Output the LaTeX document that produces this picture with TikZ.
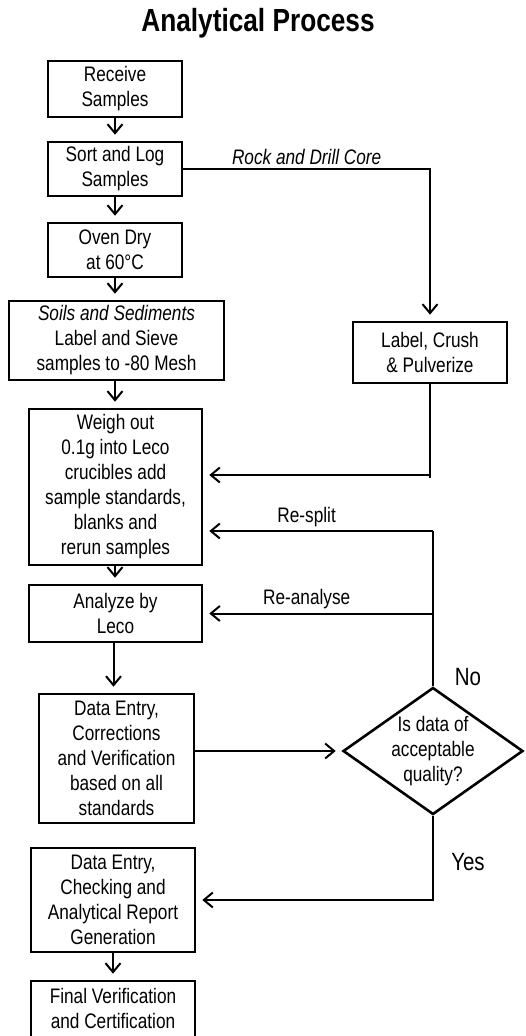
\documentclass[tikz,border=0pt]{standalone}
\usepackage{fontspec}
\setmainfont{Liberation Sans}[FakeStretch=0.82]
\usepackage{tikz}
\usetikzlibrary{positioning, arrows.meta, shapes.geometric, calc}
\tikzset{
    box/.style={rectangle, draw, line width=2.6pt, align=center, inner sep=0pt, font=\fontsize{21}{25}\selectfont},
    choice/.style={diamond, draw, line width=2.6pt, inner sep=0pt},
    flow/.style={-{Straight Barb[length=9pt, width=15pt]}, line width=2pt, shorten >=6pt},
    wire/.style={line width=2pt},
    tag/.style={font=\fontsize{21}{25}\selectfont},
    answer/.style={font=\fontsize{25}{28}\selectfont}
}

\begin{document}
\begin{tikzpicture}[x=1pt, y=-1pt]
    \useasboundingbox (0,0) rectangle (526,1036);

    % Title
    \node[font=\bfseries\fontsize{32}{36}\selectfont] (title) at (258,23) {Analytical Process};

    % Main column of steps
    \node[box, minimum width=134pt, minimum height=56pt] (receive) at (115,89) {Receive\\Samples};
    \node[box, minimum width=134pt, minimum height=54pt] (sort) at (115,169) {Sort and Log\\Samples};
    \node[box, minimum width=134pt, minimum height=54pt] (oven) at (115,250) {Oven Dry\\at 60\textdegree C};
    \node[box, minimum width=215pt, minimum height=79pt] (sieve) at (116.5,340.5) {\textit{Soils and Sediments}\\Label and Sieve\\samples to -80 Mesh};
    \node[box, minimum width=173pt, minimum height=156pt] (weigh) at (115.5,487) {Weigh out\\0.1g into Leco\\crucibles add\\sample standards,\\blanks and\\rerun samples};
    \node[box, minimum width=173pt, minimum height=57pt] (analyze) at (115.5,613.5) {Analyze by\\Leco};
    \node[box, minimum width=155pt, minimum height=129pt] (entry) at (116.5,758.5) {Data Entry,\\Corrections\\and Verification\\based on all\\standards};
    \node[box, minimum width=164pt, minimum height=104pt] (report) at (113,900) {Data Entry,\\Checking and\\Analytical Report\\Generation};
    \node[box, minimum width=164pt, minimum height=64pt, text depth=10pt] (final) at (113,1013) {Final Verification\\and Certification};

    % Rock branch and quality check
    \node[box, minimum width=154pt, minimum height=61pt] (crush) at (430,352.5) {Label, Crush\\\& Pulverize};
    \node[choice, minimum width=180pt, minimum height=127pt] (check) at (433,751) {};
    \node[tag, align=center] (checktext) at (check.center) {Is data of\\acceptable\\quality?};

    % Straight arrows down the main column
    \draw[flow] (receive.south) -- (sort.north);
    \draw[flow] (sort.south) -- (oven.north);
    \draw[flow] (oven.south) -- (oven.south |- sieve.north);
    \draw[flow] (sieve.south -| oven.south) -- (oven.south |- weigh.north);
    \draw[flow] (weigh.south -| oven.south) -- (oven.south |- analyze.north);
    \draw[flow] ($(analyze.south)+(-2,0)$) -- ($(analyze.south |- entry.north)+(-2,0)$);
    \draw[flow] (report.south) -- (final.north);

    % Rock and drill core route
    \draw[flow] (sort.east) -- (sort.east -| crush.north) node[midway, above, tag, font=\itshape\fontsize{21}{25}\selectfont] {Rock and Drill Core} -- (crush.north);
    \coordinate (join) at (crush.south |- 0,475);
    \draw[wire] (crush.south) -- ($(join)+(0,3)$);
    \draw[flow] (join) -- (join -| weigh.east);

    % Loops back from the check
    \coordinate (split) at (check.north |- 0,531);
    \coordinate (redo) at (check.north |- analyze.east);
    \draw[wire] (split) -- (check.north);
    \draw[flow] (split) -- (split -| weigh.east) node[pos=0.55, above, tag] {Re-split};
    \draw[flow] (redo) -- (analyze.east) node[pos=0.55, above, tag] {Re-analyse};
    \node[answer] (no) at (468,677) {No};

    \draw[flow] (entry.east |- check.west) -- (check.west);
    \draw[flow] (check.south) |- (report.east);
    \node[answer] (yes) at (468,862) {Yes};
\end{tikzpicture}
\end{document}
